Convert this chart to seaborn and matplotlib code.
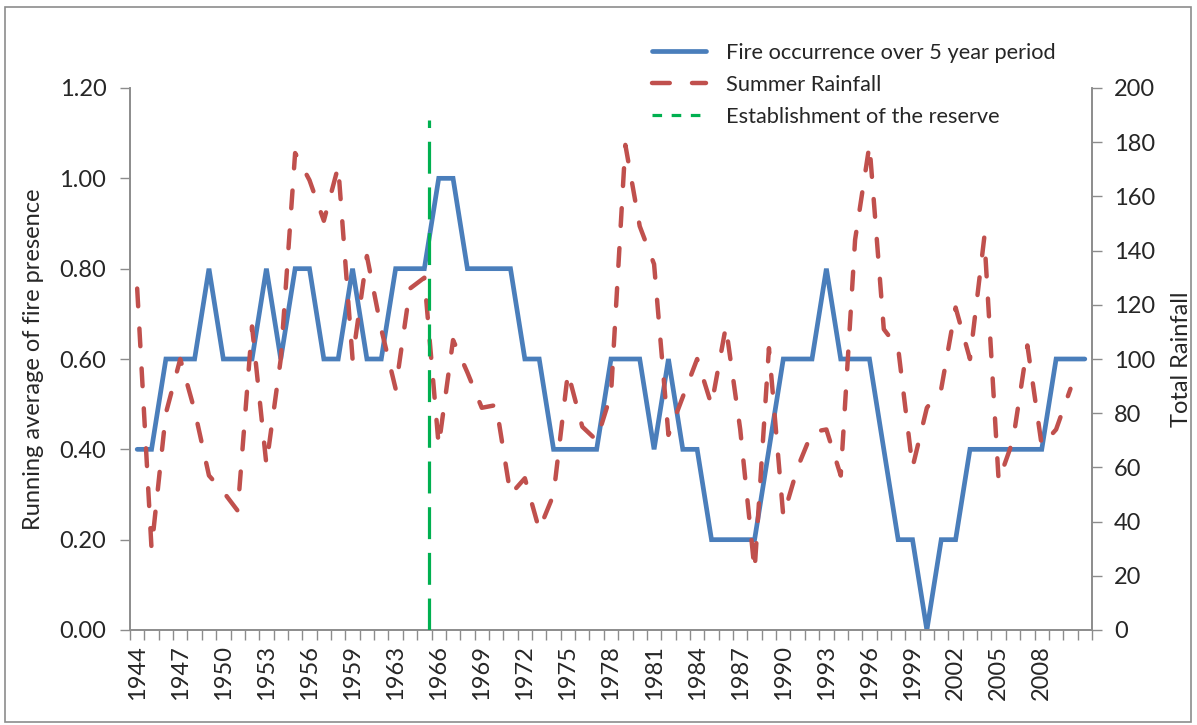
import matplotlib
matplotlib.use("Agg")
import matplotlib.pyplot as plt
from matplotlib.lines import Line2D
from matplotlib.patches import Rectangle
import numpy as np
import pandas as pd
import seaborn as sns

# categories (one year, 1962, is absent from the original series)
years = list(range(1944, 1962)) + list(range(1963, 2012))

# running average of fire presence (left axis)
fire = [0.4, 0.4, 0.6, 0.6, 0.6, 0.8, 0.6, 0.6, 0.6, 0.8,
        0.6, 0.8, 0.8, 0.6, 0.6, 0.8, 0.6, 0.6, 0.8, 0.8,
        0.8, 1.0, 1.0, 0.8, 0.8, 0.8, 0.8, 0.6, 0.6, 0.4,
        0.4, 0.4, 0.4, 0.6, 0.6, 0.6, 0.4, 0.6, 0.4, 0.4,
        0.2, 0.2, 0.2, 0.2, 0.4, 0.6, 0.6, 0.6, 0.8, 0.6,
        0.6, 0.6, 0.4, 0.2, 0.2, 0.0, 0.2, 0.2, 0.4, 0.4,
        0.4, 0.4, 0.4, 0.4, 0.6, 0.6, 0.6]

# summer rainfall (right axis), no value for the last year
rain = [126, 30, 80, 100, 81, 57, 51, 44, 112, 61,
        100, 176, 166, 151, 171, 100, 138, 111, 89, 126,
        130, 68, 107, 95, 82, 83, 50, 56, 37, 50,
        95, 75, 70, 87, 179, 149, 135, 72, 86, 100,
        83, 112, 74, 22, 104, 42, 60, 73, 74, 57,
        144, 179, 111, 104, 60, 82, 89, 119, 100, 145,
        55, 70, 105, 68, 74, 89, np.nan]

reserve_year = 1965
reserve_top = 1.13

labels = ["Fire occurrence over 5 year period", "Summer Rainfall",
          "Establishment of the reserve"]

blue = "#4A7EBB"
red = "#C0504D"
green = "#00B050"
grey = "#8C8C8C"

sns.set_style("white")
plt.rcParams['font.family'] = ['Lato', 'DejaVu Sans']

df = pd.DataFrame({'year': years, 'fire': fire, 'rain': rain})
df['pos'] = np.arange(len(df))

W, H = 1197, 725
fig = plt.figure(figsize=(W / 100, H / 100), dpi=100)
ax = fig.add_axes([130 / W, 1 - 630 / H, (1092 - 130) / W, (630 - 88) / H])
ax2 = ax.twinx()

sns.lineplot(data=df, x='pos', y='fire', ax=ax, color=blue, linewidth=3.4,
             solid_joinstyle='miter', zorder=2)
sns.lineplot(data=df, x='pos', y='rain', ax=ax2, color=red, linewidth=3.2,
             linestyle=(0, (4.0, 5.0)), dash_capstyle='round', zorder=3)

# reserve line, slightly after the 1965 category centre
xr = years.index(reserve_year) + 0.3
ax2.vlines(xr, 0, reserve_top, transform=ax.transData, color=green,
           linewidth=2.3, linestyles=[(0, (10, 4.3))], zorder=4)

n = len(years)
ax.set_xlim(-0.5, n - 0.5)
ax.set_ylim(0, 1.2)
ax2.set_ylim(0, 200)

fs = 17
ticks = np.arange(0, n, 3)
ticks = ticks[ticks <= years.index(2008)]
ax.set_xticks(ticks)
ax.set_xticklabels([str(years[i]) for i in ticks], rotation=90, fontsize=fs)
ax.set_xticks(np.arange(-0.5, n, 1), minor=True)
ax.tick_params(axis='x', which='major', length=0, pad=11, bottom=True)
ax.tick_params(axis='x', which='minor', length=7, width=1, color=grey,
               direction='out', bottom=True)

ax.set_yticks(np.arange(0, 1.21, 0.2))
ax.set_yticklabels([f"{v:.2f}" for v in np.arange(0, 1.21, 0.2)], fontsize=fs)
ax.tick_params(axis='y', length=7, width=1, color=grey, direction='out',
               pad=10, left=True)

ax2.set_yticks(np.arange(0, 201, 20))
ax2.set_yticklabels([str(v) for v in range(0, 201, 20)], fontsize=fs)
ax2.tick_params(axis='y', length=7, width=1, color=grey, direction='out',
                pad=9, right=True)

ax.set_xlabel("")
ax.set_ylabel("Running average of fire presence", fontsize=fs)
ax.yaxis.set_label_coords(-0.089, 0.5)
ax2.set_ylabel("Total Rainfall", fontsize=fs)
ax2.yaxis.set_label_coords(1.082, 0.5)

for a in (ax, ax2):
    a.spines['top'].set_visible(False)
    for s in ('left', 'bottom', 'right'):
        a.spines[s].set_color(grey)
        a.spines[s].set_linewidth(1.2)
    a.grid(False)

handles = [
    Line2D([], [], color=blue, linewidth=3.4),
    Line2D([], [], color=red, linewidth=3.2, linestyle=(0, (4.0, 5.0)),
           dash_capstyle='round'),
    Line2D([], [], color=green, linewidth=2.3, linestyle=(0, (3, 3))),
]
fig.legend(handles, labels, loc='upper left',
           bbox_to_anchor=(632 / W, 1 - 23 / H), frameon=False, fontsize=15.7,
           handlelength=2.5, handletextpad=0.9, labelspacing=0.56)

fig.patches.append(Rectangle((5 / W, 3 / H), (1191 - 5) / W, (718 - 3) / H,
                             transform=fig.transFigure, fill=False,
                             edgecolor=grey, linewidth=1.2))

fig.savefig("out.png", dpi=100)
